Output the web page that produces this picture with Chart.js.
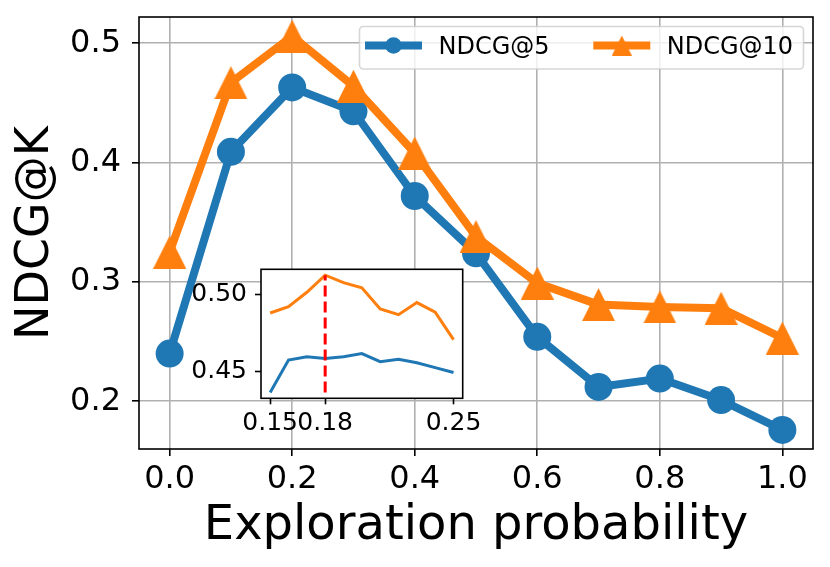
<!DOCTYPE html>
<html>
<head>
<meta charset="utf-8">
<script src="https://cdn.jsdelivr.net/npm/chart.js@4.4.0/dist/chart.umd.min.js"></script>
<style>
  html, body { margin: 0; padding: 0; background: #fff; }
  #wrap { position: relative; width: 830px; height: 567px; }
  #main { position: absolute; left: 0; top: 0; }
  #inset { position: absolute; left: 170px; top: 255px; }
</style>
</head>
<body>
<div id="wrap">
  <canvas id="main" width="830" height="567"></canvas>
  <canvas id="inset" width="340" height="190"></canvas>
</div>
<script>
// main plot
const probs = [0.0, 0.1, 0.2, 0.3, 0.4, 0.5, 0.6, 0.7, 0.8, 0.9, 1.0];
const ndcg5 = [0.240, 0.409, 0.463, 0.443, 0.372, 0.324, 0.254, 0.212, 0.219, 0.201, 0.176];
const ndcg10 = [0.325, 0.467, 0.506, 0.464, 0.408, 0.338, 0.299, 0.281, 0.279, 0.278, 0.253];
const xTicks = [0.0, 0.2, 0.4, 0.6, 0.8, 1.0];
const yTicks = [0.2, 0.3, 0.4, 0.5];

// inset (zoom around the best probability)
const insetProbs = [0.15, 0.16, 0.17, 0.18, 0.19, 0.20, 0.21, 0.22, 0.23, 0.24, 0.25];
const insetNdcg5 = [0.4364, 0.4575, 0.4597, 0.4586, 0.4597, 0.4618, 0.4565, 0.4580, 0.4558, 0.4526, 0.4494];
const insetNdcg10 = [0.4882, 0.4924, 0.5017, 0.5129, 0.5080, 0.5047, 0.4909, 0.4871, 0.4950, 0.4888, 0.4709];
const insetXTicks = [0.15, 0.18, 0.25];
const insetYTicks = [0.45, 0.50];
const bestProb = 0.18;

const BLUE = "#1f77b4";
const ORANGE = "#ff7f0e";
const FONT = "DejaVu Sans";

Chart.defaults.font.family = FONT;
Chart.defaults.color = "#000";

function toPoints(xs, ys) {
  return xs.map((x, i) => ({ x: x, y: ys[i] }));
}

// matplotlib style "^" marker: as wide as it is tall
function makeTriangle(size, color) {
  const c = document.createElement("canvas");
  c.width = size;
  c.height = size;
  const g = c.getContext("2d");
  g.fillStyle = color;
  g.beginPath();
  g.moveTo(size / 2, 0);
  g.lineTo(size, size);
  g.lineTo(0, size);
  g.closePath();
  g.fill();
  return c;
}

const bigTri = makeTriangle(33, ORANGE);
const legendTri = makeTriangle(20, ORANGE);

function fixedTicks(list) {
  return scale => { scale.ticks = list.map(v => ({ value: v })); };
}

// fix the box size and drop the label overhang padding so the plot area lands where we want it
function fixSize(prop, size) {
  return s => {
    s[prop] = size;
    s.paddingTop = 0;
    s.paddingBottom = 0;
    s.paddingLeft = 0;
    s.paddingRight = 0;
  };
}

const framePlugin = {
  id: "frame",
  beforeDraw(chart, args, opts) {
    if (!opts.fill) return;
    const a = chart.chartArea;
    chart.ctx.save();
    chart.ctx.fillStyle = opts.fill;
    chart.ctx.fillRect(a.left, a.top, a.right - a.left, a.bottom - a.top);
    chart.ctx.restore();
  },
  afterDatasetsDraw(chart) {
    const a = chart.chartArea;
    const ctx = chart.ctx;
    ctx.save();
    ctx.strokeStyle = "#000";
    ctx.lineWidth = 1.6;
    ctx.strokeRect(a.left, a.top, a.right - a.left, a.bottom - a.top);
    ctx.restore();
  }
};

const legendPlugin = {
  id: "boxLegend",
  afterDraw(chart) {
    const ctx = chart.ctx;
    ctx.save();
    ctx.beginPath();
    ctx.roundRect(359.5, 26.5, 444, 42.5, 4);
    ctx.fillStyle = "rgba(255,255,255,0.8)";
    ctx.fill();
    ctx.strokeStyle = "rgba(204,204,204,0.8)";
    ctx.lineWidth = 1.6;
    ctx.stroke();

    const starts = [365, 593.3];
    const y = 45.5;
    chart.data.datasets.forEach((ds, i) => {
      const x = starts[i];
      ctx.strokeStyle = ds.borderColor;
      ctx.lineWidth = 8;
      ctx.lineCap = "butt";
      ctx.beginPath();
      ctx.moveTo(x, y);
      ctx.lineTo(x + 57, y);
      ctx.stroke();
      if (ds.pointStyle === "circle") {
        ctx.fillStyle = ds.borderColor;
        ctx.beginPath();
        ctx.arc(x + 28.5, y, 8.3, 0, Math.PI * 2);
        ctx.fill();
      } else {
        ctx.drawImage(legendTri, x + 28.5 - 10, y - 10);
      }
      ctx.fillStyle = "#000";
      ctx.font = "24px '" + FONT + "'";
      ctx.textBaseline = "alphabetic";
      ctx.fillText(ds.label, x + 73.5, 54);
    });
    ctx.restore();
  }
};

new Chart(document.getElementById("main"), {
  type: "line",
  data: {
    datasets: [
      {
        label: "NDCG@5",
        data: toPoints(probs, ndcg5),
        borderColor: BLUE,
        backgroundColor: BLUE,
        borderWidth: 8,
        borderJoinStyle: "round",
        pointStyle: "circle",
        pointRadius: 14,
        pointBorderWidth: 0,
        pointBackgroundColor: BLUE,
        order: 1
      },
      {
        label: "NDCG@10",
        data: toPoints(probs, ndcg10),
        borderColor: ORANGE,
        backgroundColor: ORANGE,
        borderWidth: 8,
        borderJoinStyle: "round",
        pointStyle: bigTri,
        pointRadius: 17,
        pointBorderWidth: 0,
        order: 0
      }
    ]
  },
  options: {
    responsive: false,
    animation: false,
    layout: { padding: { left: 0, right: 14, top: 14, bottom: 0 } },
    plugins: { legend: { display: false }, tooltip: { enabled: false } },
    scales: {
      x: {
        type: "linear",
        min: -0.05,
        max: 1.05,
        afterBuildTicks: fixedTicks(xTicks),
        afterFit: fixSize("height", 118),
        ticks: {
          font: { size: 32 },
          padding: 4,
          autoSkip: false,
          minRotation: 0,
          maxRotation: 0,
          callback: v => v.toFixed(1)
        },
        grid: { color: "#b0b0b0", lineWidth: 1.6, tickColor: "#000", tickLength: 7, tickWidth: 1.6 },
        border: { display: false },
        title: {
          display: true,
          text: "Exploration probability",
          font: { size: 48 },
          padding: { top: 0, bottom: 11.5 }
        }
      },
      y: {
        type: "linear",
        min: 0.160,
        max: 0.522,
        afterBuildTicks: fixedTicks(yTicks),
        afterFit: fixSize("width", 139),
        ticks: {
          font: { size: 32 },
          padding: 11,
          callback: v => v.toFixed(1)
        },
        grid: { color: "#b0b0b0", lineWidth: 1.6, tickColor: "#000", tickLength: 7, tickWidth: 1.6 },
        border: { display: false },
        title: {
          display: true,
          text: "NDCG@K",
          font: { size: 46 },
          padding: { top: 8.5, bottom: 0 }
        }
      }
    }
  },
  plugins: [framePlugin, legendPlugin]
});

new Chart(document.getElementById("inset"), {
  type: "line",
  data: {
    datasets: [
      {
        label: "NDCG@5",
        data: toPoints(insetProbs, insetNdcg5),
        borderColor: BLUE,
        borderWidth: 3,
        pointRadius: 0,
        order: 2
      },
      {
        label: "NDCG@10",
        data: toPoints(insetProbs, insetNdcg10),
        borderColor: ORANGE,
        borderWidth: 3,
        pointRadius: 0,
        order: 1
      },
      {
        label: "best",
        data: [
          { x: bestProb, y: Math.min(...insetNdcg5) },
          { x: bestProb, y: Math.max(...insetNdcg10) }
        ],
        borderColor: "#ff0000",
        borderWidth: 3,
        borderDash: [11, 5],
        pointRadius: 0,
        order: 0
      }
    ]
  },
  options: {
    responsive: false,
    animation: false,
    layout: { padding: { left: 0, right: 47.3, top: 14.3, bottom: 0 } },
    plugins: {
      legend: { display: false },
      tooltip: { enabled: false },
      frame: { fill: "#fff" }
    },
    scales: {
      x: {
        type: "linear",
        min: 0.145,
        max: 0.255,
        afterBuildTicks: fixedTicks(insetXTicks),
        afterFit: fixSize("height", 46.7),
        ticks: {
          font: { size: 25 },
          padding: 4,
          autoSkip: false,
          minRotation: 0,
          maxRotation: 0,
          callback: v => v.toFixed(2)
        },
        grid: { drawOnChartArea: false, tickColor: "#000", tickLength: 6, tickWidth: 1.6 },
        border: { display: false }
      },
      y: {
        type: "linear",
        min: 0.4326,
        max: 0.5167,
        afterBuildTicks: fixedTicks(insetYTicks),
        afterFit: fixSize("width", 91),
        ticks: {
          font: { size: 25 },
          padding: 8,
          callback: v => v.toFixed(2)
        },
        grid: { drawOnChartArea: false, tickColor: "#000", tickLength: 6, tickWidth: 1.6 },
        border: { display: false }
      }
    }
  },
  plugins: [framePlugin]
});
</script>
</body>
</html>
